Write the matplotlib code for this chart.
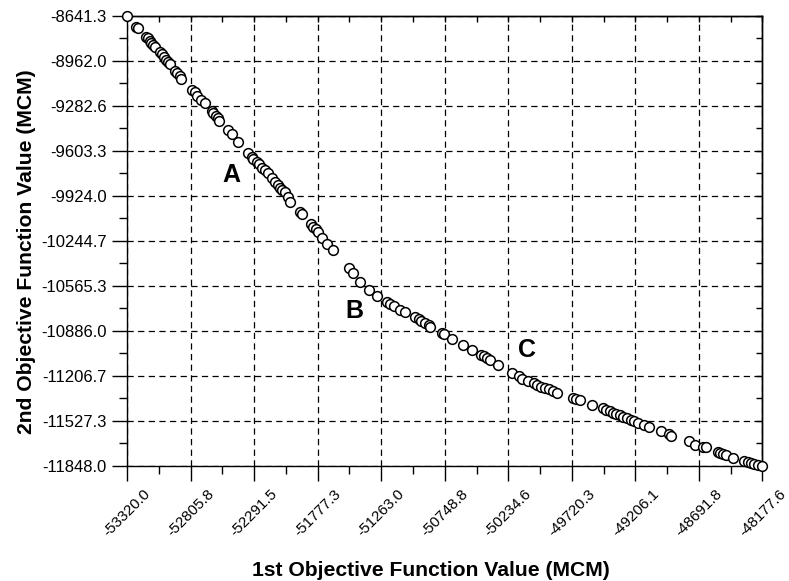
import numpy as np
import matplotlib
matplotlib.use("Agg")
import matplotlib.pyplot as plt
from matplotlib.ticker import FixedLocator

plt.rcParams['font.family'] = ['Liberation Sans', 'DejaVu Sans']

# ---- data ----
obj1 = [
    -53320.0, -53244.6, -53230.8, -53163.5, -53149.7, -53135.9, -53122.9, -53109.1, -53095.3, -53054.8,
    -53036.1, -53019.9, -53001.2, -52987.4, -52973.7, -52928.2, -52912.0, -52892.6, -52879.6, -52792.8,
    -52770.9, -52749.8, -52717.4, -52689.8, -52636.2, -52622.5, -52603.8, -52587.6, -52576.2, -52500.8,
    -52474.0, -52425.4, -52338.6, -52311.8, -52298.0, -52271.2, -52251.8, -52230.7, -52203.1, -52182.0,
    -52143.9, -52122.0, -52100.9, -52081.4, -52062.8, -52040.9, -52019.8, -52000.3, -51919.2, -51900.6,
    -51830.0, -51811.4, -51792.7, -51770.8, -51744.0, -51701.9, -51653.2, -51527.5, -51495.0, -51432.6,
    -51365.2, -51297.9, -51216.8, -51189.2, -51162.5, -51108.1, -51073.3, -50986.5, -50959.7, -50937.8,
    -50911.0, -50878.6, -50864.8, -50770.7, -50756.9, -50689.6, -50602.8, -50527.4, -50459.2, -50432.5,
    -50405.7, -50383.8, -50318.9, -50202.9, -50148.6, -50126.7, -50073.2, -50026.9, -50000.1, -49972.6,
    -49937.7, -49905.3, -49872.8, -49837.9, -49710.6, -49683.8, -49656.2, -49554.0, -49467.3, -49440.5,
    -49412.9, -49386.2, -49359.4, -49331.8, -49305.1, -49270.2, -49242.6, -49215.8, -49181.0, -49134.7,
    -49094.2, -48999.3, -48937.6, -48918.2, -48769.8, -48721.1, -48661.9, -48634.3, -48540.2, -48520.7,
    -48499.6, -48472.1, -48412.8, -48323.6, -48296.8, -48269.3, -48242.5, -48215.7, -48177.6,
]
obj2 = [
    -8641.3, -8719.6, -8731.0, -8790.8, -8802.2, -8821.5, -8837.8, -8850.0, -8862.1, -8897.7,
    -8916.2, -8933.3, -8956.8, -8973.2, -8987.4, -9035.1, -9051.5, -9068.6, -9092.1, -9170.4,
    -9186.8, -9211.0, -9241.6, -9265.1, -9320.0, -9336.3, -9353.4, -9371.9, -9391.2, -9455.3,
    -9485.9, -9542.9, -9621.2, -9645.4, -9661.8, -9681.0, -9699.5, -9723.7, -9740.1, -9763.6,
    -9799.2, -9823.4, -9846.9, -9866.2, -9882.5, -9898.9, -9930.3, -9965.9, -10037.1, -10055.6,
    -10126.8, -10143.9, -10160.3, -10183.8, -10226.5, -10270.7, -10313.4, -10440.1, -10475.7, -10535.6,
    -10594.7, -10637.4, -10678.0, -10694.4, -10708.6, -10737.1, -10749.2, -10789.1, -10803.3, -10813.3,
    -10827.5, -10843.9, -10856.0, -10898.7, -10908.0, -10945.8, -10986.4, -11021.9, -11057.5, -11068.2,
    -11078.9, -11093.2, -11128.8, -11183.6, -11207.1, -11228.5, -11246.3, -11259.1, -11271.2, -11283.3,
    -11294.7, -11301.8, -11311.8, -11326.0, -11365.9, -11373.0, -11378.0, -11413.6, -11437.1, -11449.2,
    -11456.4, -11468.5, -11477.7, -11484.9, -11497.0, -11508.4, -11520.5, -11527.6, -11539.7, -11556.1,
    -11568.2, -11596.6, -11620.1, -11634.4, -11667.9, -11698.5, -11710.6, -11710.6, -11746.2, -11753.3,
    -11762.6, -11769.7, -11793.2, -11810.3, -11817.4, -11824.6, -11833.8, -11840.9, -11848.0,
]

x_ticks = [-53320.0, -52805.8, -52291.5, -51777.3, -51263.0, -50748.8,
           -50234.6, -49720.3, -49206.1, -48691.8, -48177.6]
y_ticks = [-8641.3, -8962.0, -9282.6, -9603.3, -9924.0, -10244.7,
           -10565.3, -10886.0, -11206.7, -11527.3, -11848.0]
x_tick_labels = ["-53320.0", "-52805.8", "-52291.5", "-51777.3", "-51263.0", "-50748.8",
                 "-50234.6", "-49720.3", "-49206.1", "-48691.8", "-48177.6"]
y_tick_labels = ["-8641.3", "-8962.0", "-9282.6", "-9603.3", "-9924.0", "-10244.7",
                 "-10565.3", "-10886.0", "-11206.7", "-11527.3", "-11848.0"]

region_labels = ["A", "B", "C"]
region_x = [-52476.5, -51478.8, -50083.7]
region_y = [-9775.7, -10744.2, -11022.0]

# ---- figure ----
fig = plt.figure(figsize=(7.89, 5.81), dpi=100)
ax = fig.add_axes([0.161, 0.198, 0.8054, 0.7750])

ax.set_xlim(x_ticks[0], x_ticks[-1])
ax.set_ylim(y_ticks[-1], y_ticks[0])

ax.xaxis.set_major_locator(FixedLocator(x_ticks))
ax.yaxis.set_major_locator(FixedLocator(y_ticks))
x_minor = [(a + b) / 2 for a, b in zip(x_ticks[:-1], x_ticks[1:])]
y_minor = [(a + b) / 2 for a, b in zip(y_ticks[:-1], y_ticks[1:])]
ax.xaxis.set_minor_locator(FixedLocator(x_minor))
ax.yaxis.set_minor_locator(FixedLocator(y_minor))
ax.set_xticklabels(x_tick_labels, rotation=45, ha='center', va='top', fontsize=11)
ax.set_yticklabels(y_tick_labels, fontsize=12)

ax.tick_params(which='major', direction='out', length=10.8, width=1.0, color='black')
ax.tick_params(which='minor', direction='out', length=5.5, width=1.0, color='black')
ax.tick_params(axis='x', which='major', pad=4)
ax.tick_params(axis='y', which='major', pad=4)

for s in ax.spines.values():
    s.set_linewidth(1.0)
    s.set_color('black')

ax.grid(True, which='major', color='black', linestyle=(0, (5, 3.5)), linewidth=0.9)
ax.set_axisbelow(True)

# top / right ticks pointing inward
top = ax.secondary_xaxis('top')
top.xaxis.set_major_locator(FixedLocator(x_ticks))
top.xaxis.set_minor_locator(FixedLocator(x_minor))
top.tick_params(which='both', direction='in', length=4.5, width=1.0, labeltop=False)
right = ax.secondary_yaxis('right')
right.yaxis.set_major_locator(FixedLocator(y_ticks))
right.yaxis.set_minor_locator(FixedLocator(y_minor))
right.tick_params(which='both', direction='in', length=4.5, width=1.0, labelright=False)
for sec in (top, right):
    for s in sec.spines.values():
        s.set_linewidth(1.0)

ax.plot(obj1, obj2, linestyle='none', marker='o', markersize=7,
        markerfacecolor='white', markeredgecolor='black', markeredgewidth=1.1,
        clip_on=False, zorder=3)

for lab, xv, yv in zip(region_labels, region_x, region_y):
    ax.text(xv, yv, lab, fontsize=18, fontweight='bold', ha='center', va='center')

ax.set_xlabel("1st Objective Function Value (MCM)", fontsize=15.2, fontweight='bold')
ax.set_ylabel("2nd Objective Function Value (MCM)", fontsize=15.2, fontweight='bold')
ax.xaxis.label.set_va('baseline')
ax.yaxis.label.set_va('baseline')
ax.xaxis.set_label_coords(0.478, -0.2454)
ax.yaxis.set_label_coords(-0.1495, 0.475)

fig.savefig("out.png", dpi=100)
